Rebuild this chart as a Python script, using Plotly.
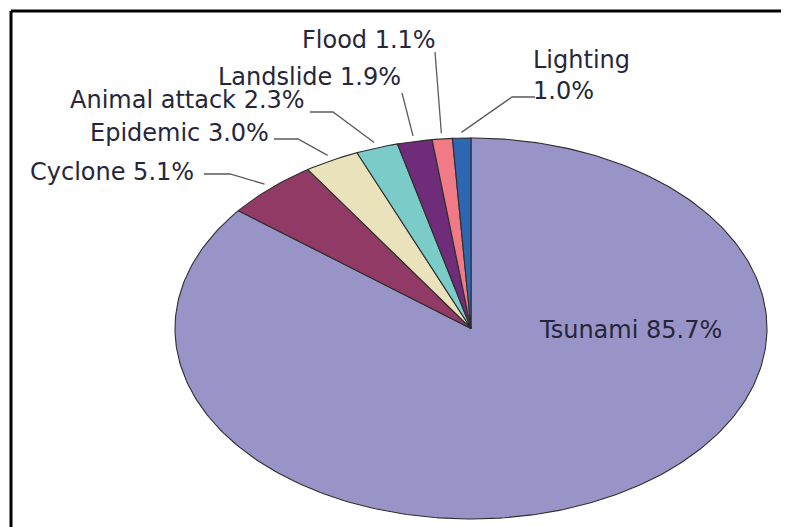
import numpy as np
import plotly.graph_objects as go

# ---- data ----
causes = ["Tsunami", "Cyclone", "Epidemic", "Animal attack", "Landslide", "Flood", "Lighting"]
shares = [85.7, 5.1, 3.0, 2.3, 1.9, 1.1, 1.0]
slice_colors = ["#9994C7", "#923A66", "#E9E2BB", "#7BCBC8", "#6E2C79", "#F07A85", "#2D67B2"]
label_texts = ["Tsunami 85.7%", "Cyclone 5.1%", "Epidemic 3.0%", "Animal attack 2.3%",
               "Landslide 1.9%", "Flood 1.1%", "Lighting<br>1.0%"]

# ---- layout constants (pixel-space axes, page coordinates) ----
W, H = 789, 527
OFF = 8                    # page body margin
CX, CY = 471.0, 328.5      # pie centre
RX, RY = 296.0, 190.5      # stretched (elliptical) radii

# label placement: (x, y, xanchor, leader path points before the slice anchor)
label_layout = {
    "Tsunami":       (537, 330, "left",  None),
    "Cyclone":       (196, 172, "right", [(204, 174), (230, 174)]),
    "Epidemic":      (271, 133, "right", [(274, 139), (298, 139)]),
    "Animal attack": (307, 100, "right", [(310, 112), (333, 112)]),
    "Landslide":     (403, 77,  "right", [(402, 93)]),
    "Flood":         (438, 40,  "right", [(435, 52)]),
    "Lighting":      (531, 75,  "left",  [(535, 97), (512, 97)]),
}

FONT = "DejaVu Sans"
TEXT_COLOR = "#26263a"

fig = go.Figure()

total = sum(shares)
cum = np.cumsum([0] + shares) / total * 2 * np.pi   # clockwise from 12 o'clock


def ell(theta, f=1.0):
    return CX + f * RX * np.sin(theta), CY - f * RY * np.cos(theta)


annotations = []
for i, name in enumerate(causes):
    a0, a1 = cum[i], cum[i + 1]
    n = max(8, int((a1 - a0) / (2 * np.pi) * 400))
    t = np.linspace(a0, a1, n)
    xs, ys = ell(t)
    px = np.concatenate([[CX], xs, [CX]])
    py = np.concatenate([[CY], ys, [CY]])
    fig.add_trace(go.Scatter(x=px, y=py, mode="lines", fill="toself",
                             fillcolor=slice_colors[i],
                             line=dict(color="#2e2e2e", width=1.1),
                             hoverinfo="text", text=f"{name}: {shares[i]}%",
                             showlegend=False))

    lx, ly, xa, path = label_layout[name]
    if path is not None:
        mid = (a0 + a1) / 2
        ax_, ay_ = ell(mid, 1.03)
        pts = path + [(ax_, ay_)]
        fig.add_trace(go.Scatter(x=[p[0] for p in pts], y=[p[1] for p in pts],
                                 mode="lines", line=dict(color="#5a5a5a", width=1.3),
                                 hoverinfo="skip", showlegend=False))
    annotations.append(dict(x=lx, y=ly, xref="x", yref="y", text=label_texts[i],
                            showarrow=False, xanchor=xa, yanchor="middle",
                            align="left",
                            font=dict(family=FONT, size=24, color=TEXT_COLOR)))

fig.update_layout(
    width=W, height=H,
    margin=dict(l=0, r=0, t=0, b=0),
    paper_bgcolor="white", plot_bgcolor="white",
    xaxis=dict(range=[OFF, W + OFF], visible=False, fixedrange=True),
    yaxis=dict(range=[H + OFF, OFF], visible=False, fixedrange=True),
    annotations=annotations,
    shapes=[
        dict(type="line", xref="x", yref="y", x0=11, y0=11, x1=11, y1=H + 20,
             line=dict(color="black", width=3)),
        dict(type="line", xref="x", yref="y", x0=11, y0=11, x1=W + 20, y1=11,
             line=dict(color="black", width=3)),
    ],
    showlegend=False,
)

fig.write_html("out.html")
